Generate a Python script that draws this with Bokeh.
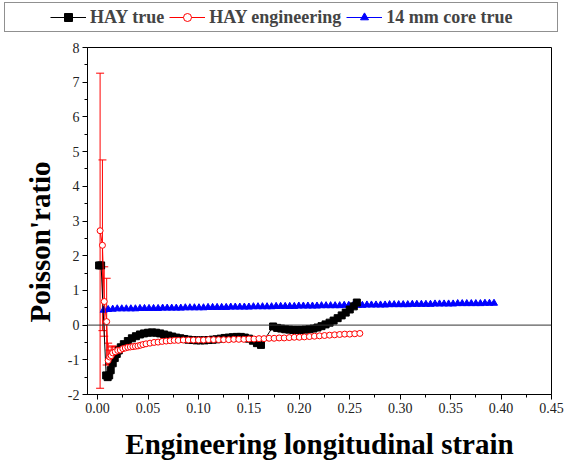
from bokeh.plotting import figure
from bokeh.layouts import column
from bokeh.models import (ColumnDataSource, Whisker, TeeHead, Span, Legend, LegendItem,
                          FixedTicker, NumeralTickFormatter, Range1d, Title)
from bokeh.embed import file_html
from bokeh.resources import INLINE

# ---------------- data ----------------
true_x = [0.0015, 0.0035, 0.0085, 0.0100, 0.0115, 0.013, 0.015, 0.017, 0.019, 0.021, 0.023,
          0.026, 0.030, 0.034, 0.038, 0.042, 0.046, 0.050, 0.054, 0.058, 0.062, 0.066,
          0.070, 0.074, 0.078, 0.082, 0.086, 0.090, 0.094, 0.098, 0.102, 0.106, 0.110,
          0.114, 0.118, 0.122, 0.126, 0.130, 0.134, 0.138, 0.142, 0.146, 0.150, 0.154,
          0.158, 0.162, 0.174, 0.178, 0.182, 0.186, 0.190, 0.194, 0.198, 0.202, 0.206,
          0.210, 0.214, 0.218, 0.222, 0.226, 0.230, 0.234, 0.238, 0.242, 0.246, 0.250,
          0.254, 0.257]
true_y = [1.72, 1.72, -1.45, -1.50, -1.45, -1.30, -1.10, -0.95, -0.83, -0.73, -0.64,
          -0.55, -0.46, -0.38, -0.32, -0.27, -0.24, -0.22, -0.21, -0.22, -0.24, -0.27,
          -0.30, -0.33, -0.36, -0.38, -0.40, -0.42, -0.43, -0.44, -0.44, -0.44, -0.43,
          -0.42, -0.41, -0.39, -0.37, -0.36, -0.35, -0.34, -0.34, -0.36, -0.39, -0.45,
          -0.52, -0.57, -0.04, -0.08, -0.10, -0.12, -0.13, -0.14, -0.14, -0.14, -0.13,
          -0.12, -0.10, -0.07, -0.03, 0.02, 0.07, 0.13, 0.20, 0.28, 0.36, 0.45,
          0.54, 0.65]

eng_x = [0.0025, 0.0048, 0.0066, 0.0090, 0.0105, 0.012, 0.0135, 0.015, 0.0175, 0.020,
         0.0225, 0.025, 0.0275, 0.030, 0.0325, 0.035, 0.0375, 0.040, 0.0425, 0.045,
         0.048, 0.052, 0.056, 0.060, 0.064, 0.068, 0.072, 0.076, 0.080, 0.085, 0.090,
         0.095, 0.100, 0.105, 0.110, 0.115, 0.120, 0.125, 0.130, 0.135, 0.140, 0.145,
         0.150, 0.155, 0.160, 0.165, 0.170, 0.175, 0.180, 0.185, 0.190, 0.195, 0.200,
         0.205, 0.210, 0.215, 0.220, 0.225, 0.230, 0.235, 0.240, 0.245, 0.250, 0.255,
         0.260]
eng_y = [2.72, 2.30, 0.68, 0.10, -1.02, -0.92, -0.88, -0.80, -0.77, -0.73,
         -0.72, -0.68, -0.66, -0.64, -0.63, -0.62, -0.61, -0.60, -0.58, -0.56,
         -0.54, -0.52, -0.50, -0.49, -0.47, -0.46, -0.45, -0.44, -0.44, -0.43, -0.43,
         -0.43, -0.43, -0.43, -0.42, -0.42, -0.42, -0.42, -0.42, -0.41, -0.41, -0.41,
         -0.40, -0.40, -0.39, -0.39, -0.38, -0.38, -0.37, -0.37, -0.36, -0.35, -0.35,
         -0.34, -0.33, -0.32, -0.31, -0.30, -0.29, -0.28, -0.27, -0.26, -0.26, -0.25,
         -0.24]
err_x = [0.0025, 0.0048, 0.0066, 0.0090, 0.0105, 0.012, 0.0135, 0.015, 0.0175]
err_y = [2.72, 2.30, 0.68, 0.10, -1.02, -0.92, -0.88, -0.80, -0.77]
err_e = [4.54, 2.46, 1.00, 1.25, 0.50, 0.20, 0.25, 0.20, 0.15]

core_x = [0.006, 0.0105, 0.015, 0.0195, 0.024, 0.0285, 0.033, 0.0375, 0.042, 0.0465,
          0.051, 0.0555, 0.060, 0.0645, 0.069, 0.0735, 0.078, 0.0825, 0.087, 0.0915,
          0.096, 0.1005, 0.105, 0.1095, 0.114, 0.1185, 0.123, 0.1275, 0.132, 0.1365,
          0.141, 0.1455, 0.150, 0.1545, 0.159, 0.1635, 0.168, 0.1725, 0.177, 0.1815,
          0.186, 0.1905, 0.195, 0.1995, 0.204, 0.2085, 0.213, 0.2175, 0.222, 0.2265,
          0.231, 0.2355, 0.240, 0.2445, 0.249, 0.2535, 0.258, 0.2625, 0.267, 0.2715,
          0.276, 0.2805, 0.285, 0.2895, 0.294, 0.2985, 0.303, 0.3075, 0.312, 0.3165,
          0.321, 0.3255, 0.330, 0.3345, 0.339, 0.3435, 0.348, 0.3525, 0.357, 0.3615,
          0.366, 0.3705, 0.375, 0.3795, 0.384, 0.3885, 0.393]
core_y = [0.43, 0.45, 0.46, 0.47, 0.47, 0.47, 0.47, 0.47, 0.48, 0.48,
          0.48, 0.48, 0.48, 0.49, 0.49, 0.49, 0.49, 0.49, 0.50, 0.50,
          0.50, 0.50, 0.50, 0.51, 0.51, 0.51, 0.51, 0.51, 0.52, 0.52,
          0.52, 0.52, 0.52, 0.53, 0.53, 0.53, 0.53, 0.53, 0.54, 0.54,
          0.54, 0.54, 0.54, 0.55, 0.55, 0.55, 0.55, 0.55, 0.56, 0.56,
          0.56, 0.56, 0.56, 0.57, 0.57, 0.57, 0.57, 0.57, 0.58, 0.58,
          0.58, 0.58, 0.58, 0.59, 0.59, 0.59, 0.59, 0.59, 0.60, 0.60,
          0.60, 0.60, 0.60, 0.61, 0.61, 0.61, 0.61, 0.61, 0.62, 0.62,
          0.62, 0.62, 0.62, 0.62, 0.63, 0.63, 0.63]

x_ticks = [0.0, 0.05, 0.10, 0.15, 0.20, 0.25, 0.30, 0.35, 0.40, 0.45]
x_minor = [0.025, 0.075, 0.125, 0.175, 0.225, 0.275, 0.325, 0.375, 0.425]
y_ticks = [-2, -1, 0, 1, 2, 3, 4, 5, 6, 7, 8]
y_minor = [-1.5, -0.5, 0.5, 1.5, 2.5, 3.5, 4.5, 5.5, 6.5, 7.5]

series_names = ["HAY true", "HAY engineering", "14 mm core true"]
x_title = "Engineering longitudinal strain"
y_title = "Poisson'ratio"

SERIF = "Liberation Serif"

src_t = ColumnDataSource(dict(x=true_x, y=true_y))
src_e = ColumnDataSource(dict(x=eng_x, y=eng_y))
src_c = ColumnDataSource(dict(x=core_x, y=core_y))
src_err = ColumnDataSource(dict(x=err_x, lo=[a - b for a, b in zip(err_y, err_e)],
                                hi=[a + b for a, b in zip(err_y, err_e)]))

# ---------------- legend strip (top) ----------------
# its ranges lie outside the data, so only the legend itself is seen
top = figure(frame_width=569, frame_height=36, output_backend="svg", toolbar_location=None,
             x_range=Range1d(10, 11), y_range=Range1d(10, 11),
             x_axis_type=None, y_axis_type=None,
             min_border_left=0, min_border_right=0, min_border_top=0, min_border_bottom=0)
top.outline_line_color = None
top.grid.visible = False
kt_l = top.line("x", "y", source=src_t, line_color="black", line_width=1)
kt_s = top.scatter("x", "y", source=src_t, marker="square", size=6, fill_color="black",
                   line_color="black")
ke_l = top.line("x", "y", source=src_e, line_color="red", line_width=1)
ke_s = top.scatter("x", "y", source=src_e, marker="circle", size=6, fill_color="white",
                   line_color="red")
kc_l = top.line("x", "y", source=src_c, line_color="blue", line_width=1)
kc_s = top.scatter("x", "y", source=src_c, marker="triangle", size=7, fill_color="blue",
                   line_color="blue")
# invisible entries that widen the legend frame to the left and right
blank = top.line("x", "y", source=src_t, line_alpha=0)
legend = Legend(items=[LegendItem(label="", renderers=[blank]),
                       LegendItem(label=series_names[0], renderers=[kt_l, kt_s]),
                       LegendItem(label=series_names[1], renderers=[ke_l, ke_s]),
                       LegendItem(label=series_names[2], renderers=[kc_l, kc_s]),
                       LegendItem(label="        ", renderers=[blank])],
                orientation="horizontal", location=(4, 4),
                padding=0, margin=0, spacing=5, glyph_width=36, label_standoff=4,
                label_width=0,
                label_text_font=SERIF, label_text_font_style="bold",
                label_text_font_size="18px", label_height=28, glyph_height=20,
                border_line_color="#222222", border_line_width=1,
                background_fill_alpha=0)
top.add_layout(legend, "center")

# ---------------- main plot ----------------
p = figure(frame_width=464, frame_height=347, output_backend="svg", toolbar_location=None,
           x_range=Range1d(-0.01, 0.45), y_range=Range1d(-2, 8),
           min_border_left=87, min_border_right=18, min_border_top=11, min_border_bottom=69)
p.background_fill_color = "white"
p.border_fill_color = "white"
p.grid.visible = False
p.outline_line_color = "black"
p.outline_line_width = 1

p.add_layout(Span(location=0, dimension="width", line_color="#333333", line_width=1))

p.line("x", "y", source=src_c, line_color="blue", line_width=1)
p.scatter("x", "y", source=src_c, marker="triangle", size=7, fill_color="blue",
          line_color="blue")

p.add_layout(Whisker(source=src_err, base="x", lower="lo", upper="hi", dimension="height",
                     line_color="red", line_width=1,
                     lower_head=TeeHead(size=8, line_color="red", line_width=1),
                     upper_head=TeeHead(size=8, line_color="red", line_width=1)))

p.line("x", "y", source=src_t, line_color="black", line_width=1)
p.scatter("x", "y", source=src_t, marker="square", size=7, fill_color="black",
          line_color="black")

p.line("x", "y", source=src_e, line_color="red", line_width=1)
p.scatter("x", "y", source=src_e, marker="circle", size=6, fill_color="white",
          line_color="red", line_width=1)

p.xaxis.ticker = FixedTicker(ticks=x_ticks, minor_ticks=x_minor)
p.yaxis.ticker = FixedTicker(ticks=y_ticks, minor_ticks=y_minor)
p.xaxis.formatter = NumeralTickFormatter(format="0.00")
p.yaxis.formatter = NumeralTickFormatter(format="0")
for ax in (p.xaxis, p.yaxis):
    ax.axis_line_color = "black"
    ax.major_tick_line_color = "black"
    ax.minor_tick_line_color = "black"
    ax.major_tick_out = 5
    ax.major_tick_in = 0
    ax.minor_tick_out = 3
    ax.minor_tick_in = 0
    ax.major_label_text_font = SERIF
    ax.major_label_text_font_size = "14px"
    ax.major_label_text_color = "#222222"
    ax.axis_label_text_font = SERIF
    ax.axis_label_text_font_style = "bold"
    ax.axis_label_text_font_size = "29px"
    ax.axis_label_text_color = "black"
p.xaxis.axis_label = x_title
p.xaxis.major_label_standoff = 3
p.yaxis.major_label_standoff = 3
p.xaxis.axis_label_standoff = 12

p.add_layout(Title(text=y_title, align="left", offset=72, standoff=18,
                   text_font=SERIF, text_font_style="bold", text_font_size="29px",
                   text_color="black"), "left")

layout = column(top, p, spacing=0)
open("out.html", "w").write(file_html(layout, INLINE))
